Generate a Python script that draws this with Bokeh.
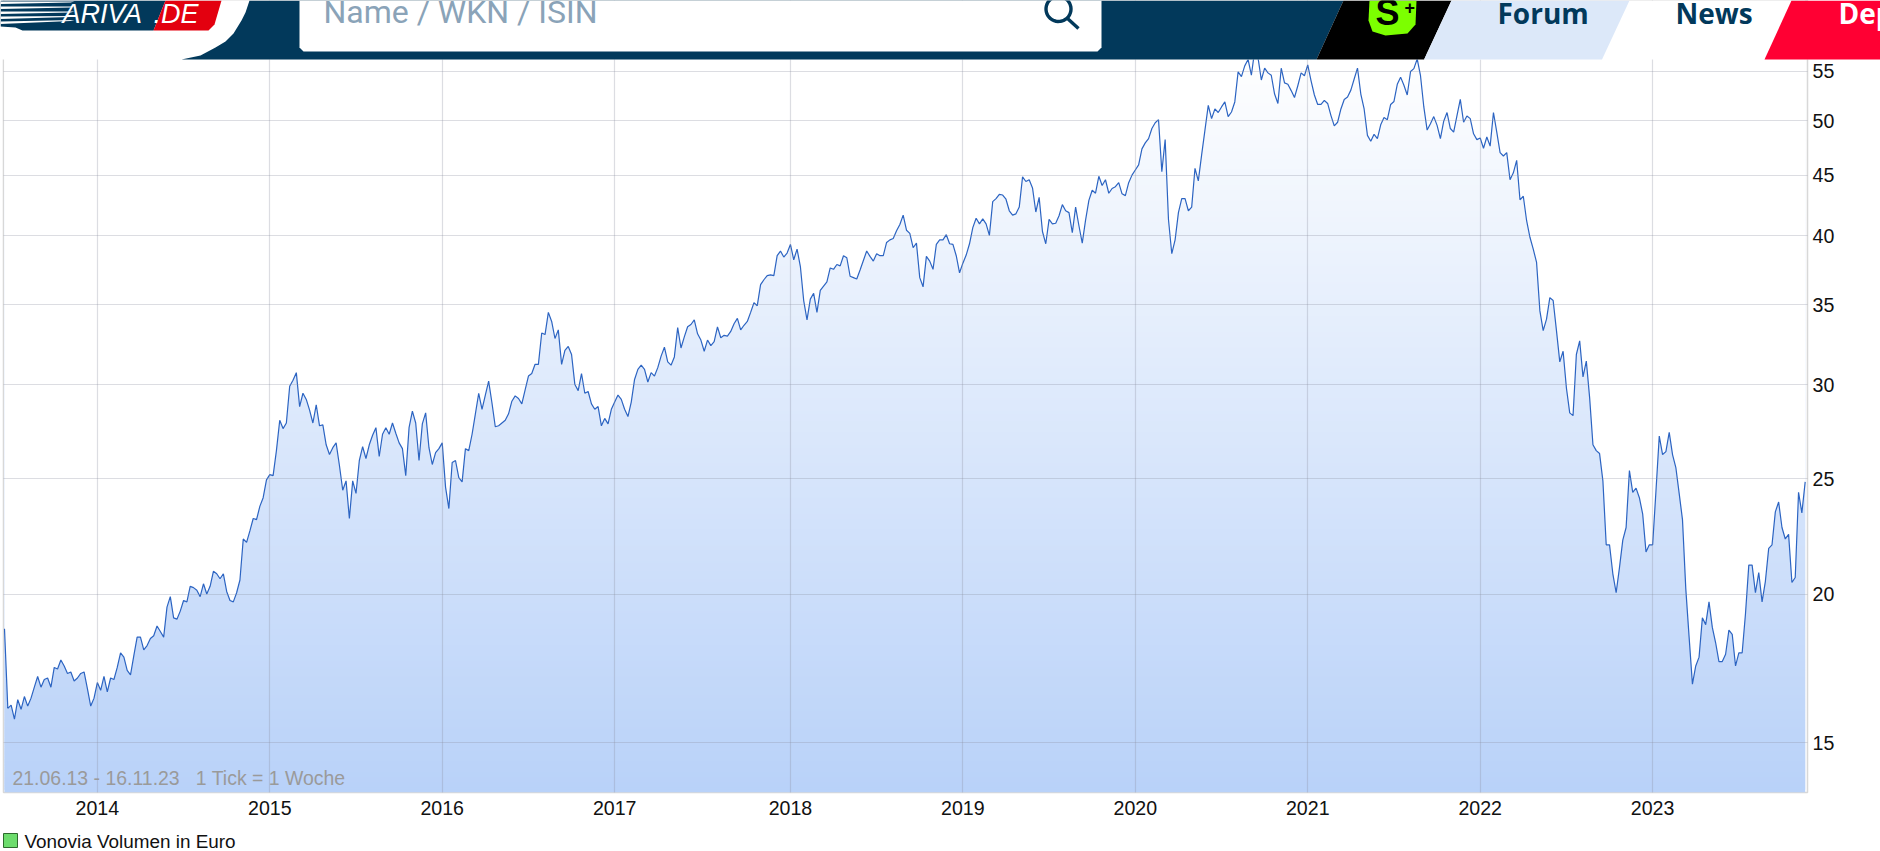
import numpy as np
from bokeh.embed import file_html
from bokeh.layouts import column
from bokeh.models import FixedTicker, Label, PolyAnnotation
from bokeh.plotting import figure
from bokeh.resources import INLINE

# weekly closing values, 21.06.13 - 16.11.23
prices = [
    18.7,16.03,16.13,15.7,16.3,16.0,16.4,16.1,16.35,16.7,
    17.05,16.7,16.95,17.0,16.7,17.35,17.3,17.6,17.4,17.15,
    17.2,16.9,17.0,17.15,17.2,16.65,16.1,16.35,16.85,16.6,
    17.05,16.55,17.0,16.95,17.35,17.85,17.7,17.25,17.1,17.75,
    18.4,18.4,17.95,18.1,18.35,18.45,18.8,18.6,18.4,19.5,
    19.9,19.1,19.05,19.35,19.75,19.7,20.3,20.25,20.15,19.9,
    20.4,20.0,20.3,20.9,20.8,20.6,20.8,20.1,19.75,19.7,
    20.05,20.55,22.25,22.1,22.6,23.15,23.1,23.7,24.1,24.95,
    25.2,25.15,26.4,28.0,27.55,27.85,29.9,30.25,30.7,28.75,
    29.5,29.15,28.55,27.85,28.85,27.7,27.75,26.7,26.2,26.55,
    26.8,25.65,24.45,24.9,23.15,24.9,24.3,25.9,26.6,26.0,
    26.7,27.2,27.6,26.1,27.25,27.6,27.25,27.85,27.3,26.8,
    26.5,25.15,27.6,28.5,27.85,25.9,27.8,28.4,26.55,25.7,
    26.3,26.5,26.8,24.6,23.6,25.8,25.9,25.05,24.85,26.5,
    26.4,27.25,28.35,29.5,28.6,29.4,30.2,28.95,27.65,27.7,
    27.85,28.0,28.35,29.05,29.35,29.2,28.9,29.7,30.5,30.65,
    31.2,31.2,33.15,33.05,34.5,33.9,32.8,33.35,31.2,32.05,
    32.3,31.8,30.0,29.65,30.65,29.5,29.6,28.9,28.6,28.75,
    27.7,28.1,27.8,28.6,29.0,29.4,29.15,28.6,28.2,29.0,
    30.3,30.9,31.15,30.9,30.15,30.7,30.5,31.0,31.7,32.25,
    31.35,31.15,31.65,33.5,32.2,32.9,33.55,33.7,34.0,33.1,
    32.7,32.0,32.7,32.35,32.6,33.55,32.85,33.0,32.95,33.25,
    33.75,34.1,33.35,33.65,33.9,34.5,35.15,34.95,36.4,36.75,
    37.05,37.1,37.05,38.5,38.85,38.4,38.7,39.35,38.2,39.0,
    37.7,35.3,34.0,35.4,35.8,34.5,36.0,36.3,36.6,37.6,
    37.5,37.85,37.75,38.5,38.35,37.0,36.9,36.8,37.45,38.15,
    38.85,38.45,38.1,38.65,38.5,38.5,39.5,39.7,39.8,40.4,
    40.9,41.65,40.45,40.2,39.1,39.45,36.9,36.25,38.45,38.1,
    37.5,39.35,39.7,39.7,40.1,39.4,39.35,38.5,37.25,37.95,
    38.55,39.4,40.65,41.4,40.95,41.35,40.95,40.05,42.75,43.0,
    43.35,43.3,42.95,42.0,41.65,41.75,42.3,44.85,44.45,44.6,
    43.9,41.9,43.1,40.35,39.4,41.3,40.95,41.0,41.6,42.5,
    42.0,41.85,40.25,42.3,40.8,39.45,41.25,42.85,43.7,43.45,
    44.9,44.1,44.6,43.45,43.85,44.0,44.35,43.4,43.25,44.35,
    45.0,45.45,45.9,47.35,47.9,48.3,49.25,49.8,50.1,45.3,
    48.2,41.3,38.65,39.7,41.85,43.0,43.0,42.0,42.3,45.6,
    44.5,46.8,49.1,51.5,50.2,51.15,50.8,51.35,51.85,50.4,
    50.85,51.85,54.95,54.45,55.6,56.3,54.6,57.3,56.5,54.1,
    55.35,54.85,54.6,52.65,51.7,55.35,53.8,53.65,53.0,52.3,
    53.5,54.85,54.55,55.7,54.0,52.55,51.6,51.6,52.0,51.7,
    50.5,49.5,49.85,51.15,52.1,52.35,53.05,54.2,55.35,52.65,
    51.15,48.6,48.05,48.7,48.3,49.6,50.3,50.1,51.6,51.9,
    53.65,54.4,53.55,52.55,55.0,55.3,56.35,54.55,51.35,49.1,
    49.7,50.4,49.55,48.3,49.95,50.8,49.25,48.9,50.5,52.1,
    49.85,50.45,50.2,48.75,48.2,48.35,47.4,48.45,47.6,50.8,
    48.9,47.0,46.7,47.0,44.6,45.2,46.3,42.9,43.2,41.2,
    39.9,39.0,38.0,34.6,33.3,34.05,35.5,35.3,33.3,31.35,
    32.0,29.8,28.4,28.25,31.8,32.65,30.45,31.4,29.25,26.7,
    26.4,26.25,24.9,22.0,22.0,20.8,20.05,21.05,22.2,22.75,
    25.4,24.35,24.55,24.1,23.35,21.7,22.0,22.0,24.4,27.15,
    26.2,26.35,27.35,26.2,25.55,24.3,23.1,20.2,18.4,16.8,
    17.4,17.7,19.1,18.85,19.7,18.75,18.2,17.55,17.55,17.8,
    18.65,18.5,17.4,17.85,17.85,19.25,21.15,21.15,20.05,20.85,
    19.7,20.5,21.85,22.0,23.45,23.9,22.75,22.25,22.45,20.45,
    20.65,24.35,23.4,24.85,
]
weeks = list(range(len(prices)))
year_labels = ["2014","2015","2016","2017","2018","2019","2020","2021","2022","2023"]
year_weeks = [28, 80, 132, 184, 237, 289, 341, 393, 445, 497]
price_ticks = [15, 20, 25, 30, 35, 40, 45, 50, 55]
range_text = "21.06.13 - 16.11.23\u00a0\u00a0 1 Tick = 1 Woche"
legend_text = "Vonovia Volumen in Euro"

NAVY = "#02395b"
Y_BOTTOM, Y_TOP = 13.62, 63.1

p = figure(width=1880, height=851, output_backend="svg", toolbar_location=None,
           x_range=(-0.30, 543.7), y_range=(Y_BOTTOM, Y_TOP), y_axis_type="log",
           y_axis_location="right", min_border_left=3, min_border_right=73,
           min_border_top=0, min_border_bottom=59, background_fill_color="white",
           outline_line_color="#d8d8d8", outline_line_width=1.5, frame_align=False)

# gradient under the line: stacked bands, then white above the line
edges = np.geomspace(Y_BOTTOM, Y_TOP, 302)
bottom_rgb, top_rgb = np.array([185, 210, 249]), np.array([255, 255, 255])
ts = np.clip((np.arange(300) + 0.5) / 300 * 792 / (792 - 50), 0, 1)
cols = ["#%02x%02x%02x" % tuple(int(c) for c in bottom_rgb + (top_rgb - bottom_rgb) * t) for t in ts]
p.quad(left=0, right=weeks[-1], bottom=edges[:-2], top=edges[2:], fill_color=cols, line_color=None)
p.varea(x=weeks, y1=prices, y2=[Y_TOP] * len(weeks), fill_color="white")
p.line(x=weeks, y=prices, line_color="#2c64c2", line_width=1.2)

for ax, ticks, over in (
    (p.xaxis[0], year_weeks, dict(zip(year_weeks, year_labels))),
    (p.yaxis[0], price_ticks, {t: str(t) for t in price_ticks}),
):
    ax.ticker = FixedTicker(ticks=ticks)
    ax.major_label_overrides = over
    ax.axis_line_color = None
    ax.major_tick_line_color = None
    ax.minor_tick_line_color = None
    ax.major_tick_out = 0
    ax.major_tick_in = 0
    ax.minor_tick_out = 0
    ax.major_label_text_font = "Liberation Sans"
    ax.major_label_text_font_size = "19.6px"
    ax.major_label_text_color = "#111111"
p.xaxis[0].major_label_standoff = 8
p.yaxis[0].major_label_standoff = 5

p.xgrid.ticker = FixedTicker(ticks=year_weeks)
p.ygrid.ticker = FixedTicker(ticks=price_ticks)
for g in (p.xgrid[0], p.ygrid[0]):
    g.level = "guide"
    g.grid_line_color = "#8a8fa0"
    g.grid_line_alpha = 0.3
    g.grid_line_width = 1.2

# transparent second figure stacked exactly over the chart: header and legend
top = figure(width=1880, height=851, output_backend="svg", toolbar_location=None,
             x_range=(0, 1880), y_range=(851, 0), x_axis_location=None, y_axis_location=None,
             min_border_left=0, min_border_right=0, min_border_top=0, min_border_bottom=0,
             background_fill_alpha=0, border_fill_alpha=0, outline_line_color=None,
             margin=(-851, 0, 0, 0), frame_align=False)
top.grid.visible = False


def poly(pts, color, line=None, lw=0):
    xs, ys = zip(*pts)
    top.add_layout(PolyAnnotation(xs=[float(v) for v in xs], ys=[float(v) for v in ys],
                                  xs_units="canvas", ys_units="canvas",
                                  fill_color=color, fill_alpha=1 if color else 0,
                                  line_color=line, line_width=lw, line_alpha=1, editable=False))


def text(x, y, s, size, color, font="Liberation Sans", style="normal", baseline="alphabetic", align="left"):
    top.add_layout(Label(x=x, y=y, x_units="canvas", y_units="canvas", text=s, text_font=font,
                         text_font_size=size, text_color=color, text_font_style=style,
                         text_baseline=baseline, text_align=align))


# annotation text inside the plot and legend
text(12, 777, range_text, "19.45px", "#9a9a9a", baseline="middle")
poly([(3, 833), (17, 833), (17, 847), (3, 847)], "#6cdc6c", "#2d6a2d", 1)
text(24, 841, legend_text, "18.9px", "#111111", baseline="middle")

# site header
poly([(0, 0), (1880, 0), (1880, 59), (0, 59)], "white")
poly([(249, 0), (245, 12), (241, 20), (233, 33), (225, 41), (215, 47), (200, 55), (181, 59), (1316, 59), (1343, 0)], NAVY)
poly([(299, 0), (1101, 0), (1101, 47), (1097, 51), (303, 51), (299, 47)], "white")
text(323, 11, "Name / WKN / ISIN", "32px", "#8aa3b8", font="Roboto")
th = np.linspace(0, 2 * np.pi, 40)
poly(list(zip(1058 + 12.5 * np.cos(th), 8.5 + 12.5 * np.sin(th))), None, NAVY, 3.4)
poly([(1067, 18), (1078, 28)], None, NAVY, 3.4)

poly([(1316, 59), (1343, 0), (1451, 0), (1423.6, 59)], "#000000")
poly([(1369, 0), (1416, 0), (1415, 24), (1407, 33), (1385, 35), (1372, 31), (1368, 20)], "#7cff00")
text(1375, 12, "S", "36px", "#000000", style="bold")
text(1404, 7, "+", "18px", "#000000", style="bold")
poly([(1423.6, 59), (1451, 0), (1629, 0), (1601.5, 59)], "#dce8f9")
text(1497, 12, "Forum", "28px", NAVY, font="Open Sans", style="bold")
text(1675, 12, "News", "28px", NAVY, font="Open Sans", style="bold")
poly([(1764, 59), (1791, 0), (1880, 0), (1880, 59)], "#ff0033")
text(1838, 12, "Dep", "28px", "white", font="Open Sans", style="bold")

# logo
poly([(0, 0), (165, 0), (153, 30), (22, 30), (15, 27), (0, 26)], NAVY)
poly([(153, 30), (165, 0), (221, 0), (214, 24), (208, 30)], "#e3000f")
for y0, y1 in ((1, 2), (6, 7), (11, 12), (16, 16.5), (21, 20.5)):
    poly([(0, y0), (74, y1 - 1), (70, y1), (0, y0 + 2.5)], "white")
text(62, 13, "ARIVA", "27px", "white", style="italic")
text(153, 13, ".DE", "27px", "white", style="italic")

assert len(prices) == 544
open("out.html", "w").write(file_html(column(p, top, spacing=0), INLINE))
